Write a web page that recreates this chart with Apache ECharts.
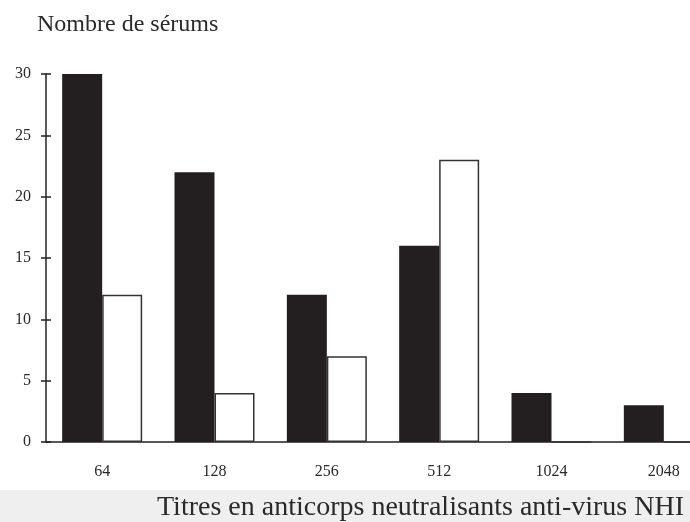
<!DOCTYPE html>
<html>
<head>
<meta charset="utf-8">
<script src="https://cdn.jsdelivr.net/npm/echarts@6/dist/echarts.min.js"></script>
<style>
  html, body { margin: 0; padding: 0; background: #fff; overflow: hidden; }
  /* the original axis runs past the right edge, so the chart is a bit wider than the window */
  #chart { width: 720px; height: 522px; }
</style>
</head>
<body>
<div id="chart"></div>
<script>
// titres (categories)
const titres = ["64", "128", "256", "512", "1024", "2048"];
// filled bars
const seriesNoires = [30, 22, 12, 16, 4, 3];
// open bars
const seriesBlanches = [12, 4, 7, 23, 0, 0];
const yTicks = [0, 5, 10, 15, 20, 25, 30];

const font = "Liberation Serif";
const chart = echarts.init(document.getElementById("chart"));

chart.setOption({
  animation: false,
  backgroundColor: "#fff",
  textStyle: { fontFamily: font },
  title: [
    {
      text: "Nombre de sérums",
      left: 32,
      top: 8,
      textStyle: { fontFamily: font, fontSize: 24, fontWeight: "normal", color: "#2a2a2a" },
    },
    {
      text: "Titres en anticorps neutralisants anti-virus NHI",
      left: 152,
      top: 489,
      textStyle: { fontFamily: font, fontSize: 28, fontWeight: "normal", color: "#2a2a2a" },
    },
  ],
  graphic: [
    {
      type: "rect",
      z: -10,
      shape: { x: 0, y: 490, width: 720, height: 32 },
      style: { fill: "#efefef" },
    },
  ],
  grid: {
    left: 46,
    right: 0,
    top: 74,
    bottom: 80,
  },
  xAxis: {
    type: "category",
    data: titres,
    axisLine: { lineStyle: { color: "#222", width: 1.5 } },
    axisTick: { show: false },
    axisLabel: { color: "#2a2a2a", fontSize: 16, margin: 22, fontFamily: font },
  },
  yAxis: [
    {
      type: "value",
      min: yTicks[0],
      max: yTicks[yTicks.length - 1],
      interval: 5,
      splitLine: { show: false },
      axisLine: { show: true, lineStyle: { color: "#222", width: 1.5 } },
      axisTick: { show: true, length: 5, lineStyle: { color: "#222", width: 1.5 } },
      axisLabel: { color: "#2a2a2a", fontSize: 16, margin: 15, fontFamily: font },
    },
    {
      type: "value",
      position: "left",
      min: yTicks[0],
      max: yTicks[yTicks.length - 1],
      interval: 5,
      splitLine: { show: false },
      axisLine: { show: false },
      axisTick: { show: true, inside: true, length: 5, lineStyle: { color: "#222", width: 1.5 } },
      axisLabel: { show: false },
    },
  ],
  series: [
    {
      type: "bar",
      data: seriesNoires,
      barWidth: 40,
      barGap: "0%",
      itemStyle: { color: "#231f20" },
    },
    {
      type: "bar",
      data: seriesBlanches,
      barWidth: 40,
      itemStyle: { color: "#fff", borderColor: "#333", borderWidth: 1.5 },
    },
  ],
});
</script>
</body>
</html>
